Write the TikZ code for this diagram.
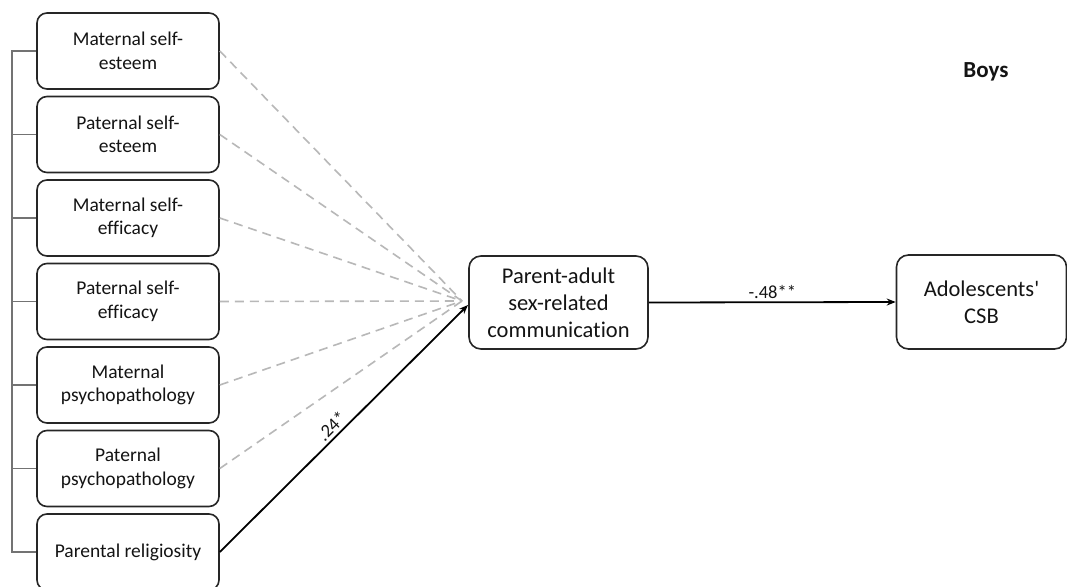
\documentclass[tikz,border=0pt]{standalone}
\usepackage{fontspec}
\setmainfont{Carlito}[Ligatures={NoCommon}]
\usetikzlibrary{arrows.meta}
\begin{document}
\begin{tikzpicture}[x=1pt,y=-1pt,
 box/.style={draw=black!85, line width=1.6pt, rounded corners=10pt, minimum width=182pt, minimum height=76pt, align=center, font=\fontsize{19.5}{23.5}\selectfont, inner sep=0pt, text=black!92},
 bigbox/.style={draw=black!85, line width=1.6pt, rounded corners=12pt, align=center, font=\fontsize{22.5}{27}\selectfont, inner sep=0pt, text=black!92},
 dashlink/.style={draw=black!28, line width=1.6pt, dash pattern=on 9pt off 6pt},
 solidlink/.style={draw=black, line width=1.8pt, -{Stealth[length=9pt,width=7pt]}},
 bracket/.style={draw=black!55, line width=1.2pt},
 lbl/.style={font=\fontsize{18.5}{21}\selectfont, inner sep=3pt, text=black!92}
]
\useasboundingbox (0,0) rectangle (1067,586);
\clip (0,0) rectangle (1067,586);
\fill[white] (0,0) rectangle (1067,586);

\node[box] (b1) at (128,51) {Maternal self-\\esteem};
\node[box] (b2) at (128,134.5) {Paternal self-\\esteem};
\node[box] (b3) at (128,218) {Maternal self-\\efficacy};
\node[box] (b4) at (128,301.5) {Paternal self-\\efficacy};
\node[box] (b5) at (128,385) {Maternal\\psychopathology};
\node[box] (b6) at (128,468.5) {Paternal\\psychopathology};
\node[box] (b7) at (128,552) {Parental religiosity};

\node[bigbox, minimum width=179pt, minimum height=93pt] (mid) at (558.5,302.5) {Parent-adult\\sex-related\\communication};
\node[bigbox, minimum width=170pt, minimum height=94pt] (out) at (981.5,302) {Adolescents\textquotesingle\\CSB};

\node[font=\fontsize{23}{27}\selectfont\bfseries, text=black!92] (boys) at (986,72) {Boys};

\coordinate (brtop) at (12,51);
\coordinate (conv) at (462,301);
\coordinate (tip) at (468,305);

\draw[bracket] (b1.west) -- (brtop) -- (brtop |- b7.west) -- (b7.west);
\foreach \b in {b2,b3,b4,b5,b6}{
  \draw[bracket] (\b.west) -- (\b.west -| brtop);
}

\foreach \b in {b1,b2,b3,b4,b5,b6}{
  \draw[dashlink] (\b.east) -- (conv);
}
\draw[solidlink] (b7.east) -- node[lbl, pos=0.48, sloped, above] (l24) {.24*} (tip);
\draw[solidlink] (mid.east) -- node[lbl, above] (l48) {-.48**} (out.west);
\end{tikzpicture}
\end{document}
